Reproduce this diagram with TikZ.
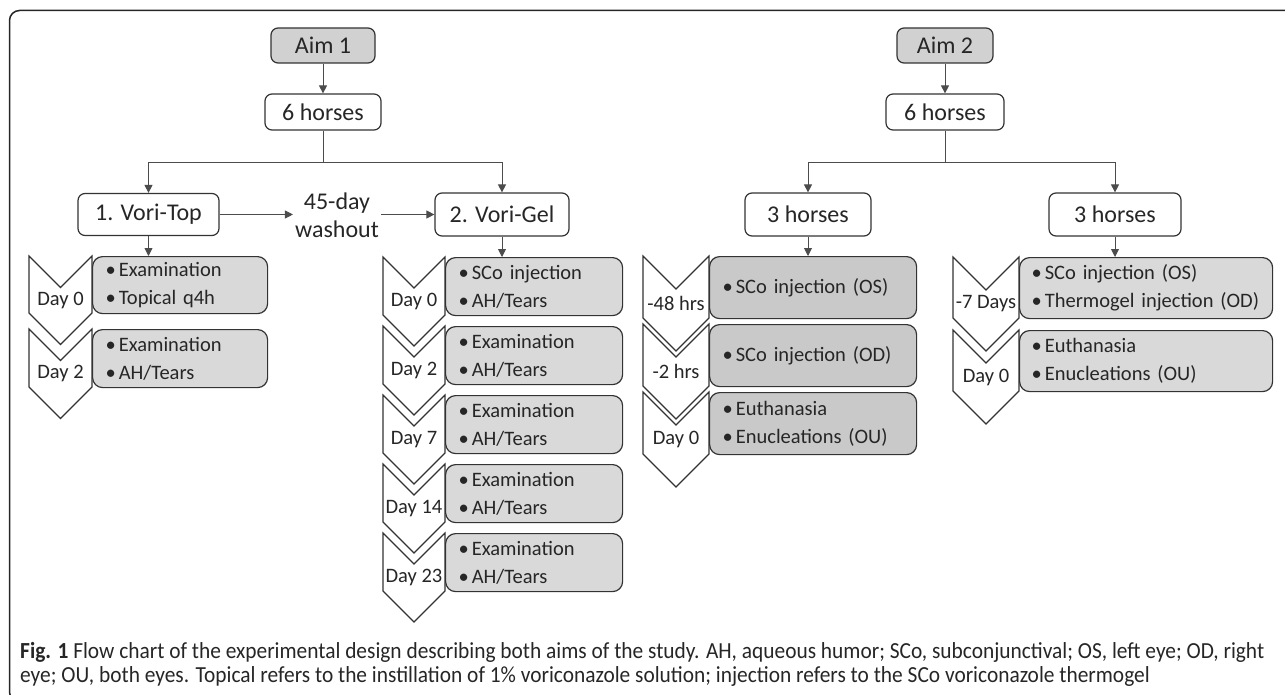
\documentclass[tikz,border=0pt]{standalone}
\usepackage{fontspec}
\setmainfont{Carlito}
\newfontfamily\capfont[FakeStretch=0.93]{Carlito}
\usetikzlibrary{arrows.meta}
\newcommand{\itembul}{\textbullet\kern3pt}

\begin{document}
\begin{tikzpicture}[x=1pt, y=-1pt,
    every node/.style={font=\fontsize{24}{28}\selectfont, text=black!85},
    stage/.style={draw=black!80, line width=1.2pt, rounded corners=7pt, minimum height=36pt, inner sep=0pt},
    item/.style={draw=black!80, line width=1.2pt, rounded corners=10pt, anchor=north west, align=left, inner xsep=13pt, inner ysep=0pt, font=\fontsize{20.5}{28}\selectfont},
    chev/.style={draw=black!80, line width=1.1pt, fill=white},
    when/.style={font=\fontsize{20.5}{24}\selectfont, inner sep=0pt},
    link/.style={draw=black!70, line width=0.9pt},
    arr/.style={link, -{Triangle[length=8pt,width=8pt]}}]

\useasboundingbox (0,0) rectangle (1285,695);
\draw[line width=1.5pt, rounded corners=10pt, black!85] (9.5,10.5) rectangle (1300,702);

% aim 1
\node[stage, fill=gray!36, minimum width=104pt, minimum height=35pt] (aimI) at (323,45.5) {Aim 1};
\node[stage, minimum width=116pt] (horsesI) at (323,112) {6 horses};
\node[stage, minimum width=141pt, minimum height=42pt] (top) at (148.5,214.5) {1. Vori-Top};
\node[align=center, inner sep=2pt] (wash) at (337,215.5) {45-day\\washout};
\node[stage, minimum width=134pt, minimum height=43pt] (gel) at (502,214.5) {2. Vori-Gel};

% aim 2
\node[stage, fill=gray!36, minimum width=96pt, minimum height=35pt] (aimII) at (945,45.5) {Aim 2};
\node[stage, minimum width=118pt] (horsesII) at (945,112) {6 horses};
\node[stage, minimum width=126pt, minimum height=43pt] (grpA) at (808,214.5) {3 horses};
\node[stage, minimum width=132pt, minimum height=43pt] (grpB) at (1115,214.5) {3 horses};

% Vori-Top days
\draw[chev] (29,256) -- ++(31.5,31.5) -- ++(31.5,-31.5) -- ++(0,57) -- ++(-31.5,31.5) -- ++(-31.5,-31.5) -- cycle;
\draw[chev] (29,329) -- ++(31.5,31.5) -- ++(31.5,-31.5) -- ++(0,58) -- ++(-31.5,31.5) -- ++(-31.5,-31.5) -- cycle;
\node[when] (ltopd0) at (60.5,300.25) {Day 0};
\node[when] (ltopd2) at (60.5,373.75) {Day 2};
\node[item, fill=gray!30, minimum width=175pt, text width=149pt, minimum height=57pt] (topd0) at (92,256) {\itembul Examination\\\itembul Topical q4h};
\node[item, fill=gray!30, minimum width=175pt, text width=149pt, minimum height=58pt] (topd2) at (92,329) {\itembul Examination\\\itembul AH/Tears};

% Vori-Gel days
\draw[chev] (383,257) -- ++(31,31) -- ++(31,-31) -- ++(0,58) -- ++(-31,31) -- ++(-31,-31) -- cycle;
\draw[chev] (383,326) -- ++(31,31) -- ++(31,-31) -- ++(0,58) -- ++(-31,31) -- ++(-31,-31) -- cycle;
\draw[chev] (383,395) -- ++(31,31) -- ++(31,-31) -- ++(0,58) -- ++(-31,31) -- ++(-31,-31) -- cycle;
\draw[chev] (383,464) -- ++(31,31) -- ++(31,-31) -- ++(0,58) -- ++(-31,31) -- ++(-31,-31) -- cycle;
\draw[chev] (383,533) -- ++(31,31) -- ++(31,-31) -- ++(0,58) -- ++(-31,31) -- ++(-31,-31) -- cycle;
\node[when] (lgeld0) at (414,301.5) {Day 0};
\node[when] (lgeld2) at (414,370.5) {Day 2};
\node[when] (lgeld7) at (414,439.5) {Day 7};
\node[when] (lgeld14) at (414,508.5) {Day 14};
\node[when] (lgeld23) at (414,577.5) {Day 23};
\node[item, fill=gray!30, minimum width=177pt, text width=151pt, minimum height=58pt] (geld0) at (445,257) {\itembul SCo injection\\\itembul AH/Tears};
\node[item, fill=gray!30, minimum width=177pt, text width=151pt, minimum height=58pt] (geld2) at (445,326) {\itembul Examination\\\itembul AH/Tears};
\node[item, fill=gray!30, minimum width=177pt, text width=151pt, minimum height=58pt] (geld7) at (445,395) {\itembul Examination\\\itembul AH/Tears};
\node[item, fill=gray!30, minimum width=177pt, text width=151pt, minimum height=58pt] (geld14) at (445,464) {\itembul Examination\\\itembul AH/Tears};
\node[item, fill=gray!30, minimum width=177pt, text width=151pt, minimum height=58pt] (geld23) at (445,533) {\itembul Examination\\\itembul AH/Tears};

% aim 2, first group
\draw[chev] (643,256) -- ++(33,33) -- ++(33,-33) -- ++(0,62) -- ++(-33,33) -- ++(-33,-33) -- cycle;
\draw[chev] (643,324) -- ++(33,33) -- ++(33,-33) -- ++(0,62) -- ++(-33,33) -- ++(-33,-33) -- cycle;
\draw[chev] (643,392) -- ++(33,33) -- ++(33,-33) -- ++(0,62) -- ++(-33,33) -- ++(-33,-33) -- cycle;
\node[when] (la48) at (676,303.5) {-48 hrs};
\node[when] (la2) at (676,371.5) {-2 hrs};
\node[when] (la0) at (676,439.5) {Day 0};
\node[item, fill=gray!42, minimum width=207pt, text width=181pt, minimum height=62pt] (a48) at (709,256) {\itembul SCo injection (OS)};
\node[item, fill=gray!42, minimum width=207pt, text width=181pt, minimum height=62pt] (a2) at (709,324) {\itembul SCo injection (OD)};
\node[item, fill=gray!42, minimum width=207pt, text width=181pt, minimum height=62pt] (a0) at (709,392) {\itembul Euthanasia\\\itembul Enucleations (OU)};

% aim 2, second group
\draw[chev] (953,257) -- ++(33,33) -- ++(33,-33) -- ++(0,61) -- ++(-33,33) -- ++(-33,-33) -- cycle;
\draw[chev] (953,330) -- ++(33,33) -- ++(33,-33) -- ++(0,61) -- ++(-33,33) -- ++(-33,-33) -- cycle;
\node[when] (lb7) at (986,304) {-7 Days};
\node[when] (lb0) at (986,377) {Day 0};
\node[item, fill=gray!30, minimum width=253pt, text width=229pt, inner xsep=12pt, minimum height=61pt] (b7) at (1019,257) {\mbox{\itembul SCo injection (OS)}\\\mbox{\itembul Thermogel injection (OD)}};
\node[item, fill=gray!30, minimum width=253pt, text width=229pt, inner xsep=12pt, minimum height=61pt] (b0) at (1019,330) {\itembul Euthanasia\\\itembul Enucleations (OU)};

% connectors
\coordinate (splitI) at (323,162);
\coordinate (splitII) at (945,162);
\draw[arr] (aimI) -- (horsesI);
\draw[link] (horsesI) -- (splitI);
\draw[arr] (splitI) -| (top);
\draw[arr] (splitI) -| (gel);
\draw[arr] (top) -- (top -| wash.west);
\draw[arr] (wash.east |- gel) -- (gel);
\draw[arr] (top) -- (top |- topd0.north);
\draw[arr] (gel) -- (gel |- geld0.north);
\draw[arr] (aimII) -- (horsesII);
\draw[link] (horsesII) -- (splitII);
\draw[arr] (splitII) -| (grpA);
\draw[arr] (splitII) -| (grpB);
\draw[arr] (grpA) -- (grpA |- a48.north);
\draw[arr] (grpB) -- (grpB |- b7.north);

% caption
\node[anchor=west, inner sep=0pt, font=\capfont\fontsize{23}{24}\selectfont] (capI) at (20,652) {\textbf{Fig. 1} Flow chart of the experimental design describing both aims of the study. AH, aqueous humor; SCo, subconjunctival; OS, left eye; OD, right};
\node[anchor=west, inner sep=0pt, font=\capfont\fontsize{23}{24}\selectfont] (capII) at (20,676) {eye; OU, both eyes. Topical refers to the instillation of 1\% voriconazole solution; injection refers to the SCo voriconazole thermogel};
\end{tikzpicture}
\end{document}
